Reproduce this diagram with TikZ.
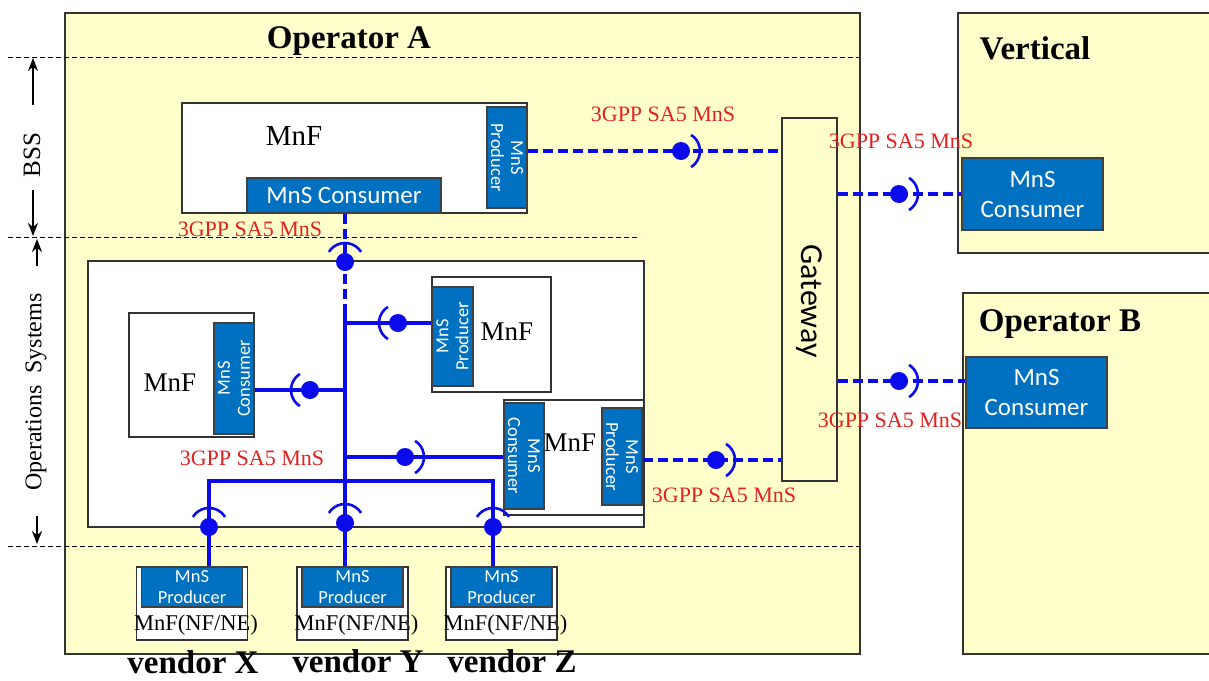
\documentclass[tikz,border=0pt]{standalone}
\usepackage{fontspec}
\setmainfont{Liberation Serif}
\newfontfamily\carlito{Carlito}
\usepackage{tikz}
\usetikzlibrary{arrows.meta, calc}
\definecolor{opyellow}{RGB}{255,255,204}
\definecolor{mnsblue}{RGB}{0,112,192}
\definecolor{linkblue}{RGB}{10,10,235}
\definecolor{sared}{RGB}{228,32,32}
% cup of a socket, opening towards the ball
\newcommand{\socketcup}[2]{\draw[cup] ($(#1)+({#2-58}:19)$) arc[start angle={#2-58}, end angle={#2+58}, radius=19];}

\begin{document}
\begin{tikzpicture}[x=1pt, y=-1pt,
    area/.style={draw=black!80, line width=1.3pt, fill=opyellow},
    mnfbox/.style={draw=black!80, line width=1.3pt, fill=white, inner sep=0pt},
    mnsbox/.style={draw=black!75, line width=1.2pt, fill=mnsblue, text=white, align=center, inner sep=0pt},
    hmns/.style={font=\carlito\fontsize{25}{30}\selectfont},
    vmns/.style={font=\carlito\fontsize{18.5}{20}\selectfont},
    ball/.style={circle, fill=linkblue, inner sep=0pt, minimum size=18pt},
    link/.style={linkblue, line width=3.6pt},
    dlink/.style={link, dash pattern=on 10pt off 5pt},
    cup/.style={linkblue, line width=2.6pt},
    sa5/.style={text=sared, font=\fontsize{22}{24}\selectfont, inner sep=0pt},
    layer/.style={line width=1pt, dash pattern=on 5pt off 3pt},
    layerarrow/.style={-{Stealth[length=13pt,width=10pt]}, line width=2.4pt},
    title/.style={font=\bfseries\fontsize{33}{36}\selectfont, inner sep=0pt},
    mnftext/.style={font=\fontsize{27}{30}\selectfont, inner sep=0pt}]
\useasboundingbox (0,0) rectangle (1209,680);
\fill[white] (0,0) rectangle (1209,680);

% domains
\draw[area] (65,13) rectangle (860,654);
\draw[area] (958,13) rectangle (1215,253);
\draw[area] (963,293) rectangle (1215,654);

% management layers
\draw[layer] (8,57) -- (860,57);
\draw[layer] (8,237) -- (640,237);
\draw[layer] (8,546) -- (860,546);
\draw[layerarrow] (33,105) -- (33,58);
\draw[layerarrow] (33,190) -- (33,236);
\draw[layerarrow] (37,266) -- (37,239);
\draw[layerarrow] (37,516) -- (37,544);
\node[rotate=90, font=\fontsize{25}{28}\selectfont] (bsslbl) at (32,155) {BSS};
\node[rotate=90, font=\fontsize{24}{28}\selectfont] (oslbl) at (36,392) {Operations\ \ Systems};

\node[title] (opAlbl) at (349,41) {Operator A};
\node[title] (vertlbl) at (1035,48) {Vertical};
\node[title] (opBlbl) at (1060,324) {Operator B};

% operations systems
\draw[mnfbox] (88,261) rectangle (644,527);

% gateway
\node[draw=black!80, line width=1.3pt, fill=opyellow, minimum width=55pt, minimum height=363pt] (gw) at (809.5,299.5) {};
\node[rotate=-90, font=\carlito\fontsize{32}{34}\selectfont] (gwlbl) at (809,301) {Gateway};

% red interface labels
\node[sa5] (saTop) at (663,114) {3GPP SA5 MnS};
\node[sa5] (saVert) at (901,141) {3GPP SA5 MnS};
\node[sa5] (saOpB) at (890,420) {3GPP SA5 MnS};
\node[sa5] (saBss) at (250,229) {3GPP SA5 MnS};
\node[sa5] (saMid) at (252,458) {3GPP SA5 MnS};
\node[sa5] (saRight) at (724,495) {3GPP SA5 MnS};

% BSS MnF
\node[mnfbox, minimum width=345pt, minimum height=110pt] (bssmnf) at (354.5,158) {};
\node[mnftext, font=\fontsize{29}{30}\selectfont] (bssmnflbl) at (294,136) {MnF};
\node[mnsbox, hmns, minimum width=194pt, minimum height=35pt] (bsscons) at (344,195.5) {MnS Consumer};
\node[mnsbox, vmns, rotate=-90, minimum width=101pt, minimum height=40pt] (bssprod) at (507,157.5) {MnS\\Producer};

% consumers in other domains
\node[mnsbox, hmns, minimum width=141pt, minimum height=72pt] (vcons) at (1032.5,194) {MnS\\Consumer};
\node[mnsbox, hmns, minimum width=141pt, minimum height=71pt] (bcons) at (1036.5,392.5) {MnS\\Consumer};

% MnFs in the operations systems
\node[mnfbox, minimum width=125pt, minimum height=124pt] (lmnf) at (191.5,375) {};
\node[mnftext] (lmnflbl) at (170,383) {MnF};
\node[mnsbox, vmns, rotate=90, minimum width=111pt, minimum height=40pt] (lcons) at (234,378.5) {MnS\\Consumer};

\node[mnfbox, minimum width=119pt, minimum height=115pt] (umnf) at (491.5,334.5) {};
\node[mnftext] (umnflbl) at (507,332) {MnF};
\node[mnsbox, vmns, rotate=90, minimum width=99pt, minimum height=41pt] (uprod) at (452.5,336.5) {MnS\\Producer};

\node[mnfbox, minimum width=140pt, minimum height=115pt] (rmnf) at (574,457.5) {};
\node[mnftext] (rmnflbl) at (570,443) {MnF};
\node[mnsbox, vmns, rotate=-90, minimum width=106pt, minimum height=40pt] (rcons) at (524,456) {MnS\\Consumer};
\node[mnsbox, vmns, rotate=-90, minimum width=97pt, minimum height=40pt] (rprod) at (622,456.5) {MnS\\Producer};

% vendor network functions
\foreach \v/\cx in {x/192, y/352.5, z/501.5} {
  \node[mnfbox, minimum width=111pt, minimum height=73pt] (v\v) at (\cx,603.5) {};
  \node[mnsbox, font=\carlito\fontsize{18.5}{21}\selectfont, minimum width=101pt, minimum height=40pt] (p\v) at (\cx,587) {MnS\\Producer};
  \node[font=\fontsize{22.5}{24}\selectfont, inner sep=0pt] (n\v) at ($(\cx,625)+(4,0)$) {MnF(NF/NE)};
}
\node[title] (vxlbl) at (193,662) {vendor X};
\node[title] (vylbl) at (358,661) {vendor Y};
\node[title] (vzlbl) at (512,661) {vendor Z};

% sockets
\node[ball] (bA) at (681,151) {};
\node[ball] (bV) at (899,194) {};
\node[ball] (bB) at (899,381) {};
\node[ball] (bR) at (716,460) {};
\node[ball] (bL) at (310,390) {};
\node[ball] (bU) at (398,323) {};
\node[ball] (bM) at (405,457) {};
\node[ball] (bT) at (345,262) {};
\node[ball] (bX) at (209,527) {};
\node[ball] (bY) at (345,523) {};
\node[ball] (bZ) at (493,527) {};
\coordinate (busTop) at (345,305);
\coordinate (hbL) at (209,481);
\coordinate (hbR) at (493,481);

% links
\draw[dlink] (bA -| bssprod.north) -- (bA -| gw.west);
\draw[dlink] (bV -| gw.east) -- (bV -| vcons.west);
\draw[dlink] (bB -| gw.east) -- (bB -| bcons.west);
\draw[dlink] (bR -| rprod.north) -- (bR -| gw.west);
\draw[dlink] (bT |- bsscons.south) -- (bT.center) -- (busTop);
\draw[link] (busTop) -- (bY.center);
\draw[link] (bU -| busTop) -- (bU -| uprod.north);
\draw[link] (bL -| lcons.south) -- (bL -| busTop);
\draw[link] (bM -| busTop) -- (bM -| rcons.south);
\draw[link] (bX.center) -- (hbL) -- (hbR) -- (bZ.center);
\draw[link] (bX.center) -- (bX |- px.north);
\draw[link] (bY.center) -- (bY |- py.north);
\draw[link] (bZ.center) -- (bZ |- pz.north);

\foreach \b in {bA, bV, bB, bR, bM} {\socketcup{\b}{0}}
\foreach \b in {bL, bU} {\socketcup{\b}{180}}
\foreach \b in {bT, bX, bY, bZ} {\socketcup{\b}{270}}
\end{tikzpicture}
\end{document}
